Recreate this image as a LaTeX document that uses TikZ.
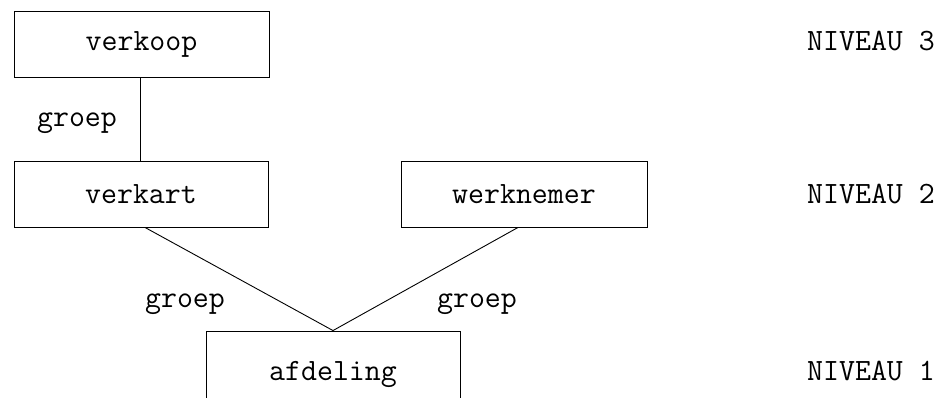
\documentclass[tikz,border=0pt]{standalone}
\usepackage{tikz}

\begin{document}
\begin{tikzpicture}[x=1pt,y=-1pt,line width=0.9pt,
  every node/.style={font=\fontsize{31}{36}\selectfont\ttfamily},
  tabel/.style={draw,rectangle,inner sep=0pt,minimum height=66pt},
  lbl/.style={inner sep=0pt}]
\useasboundingbox (0,0) rectangle (949,397);

% tables
\node[tabel,minimum width=255pt] (verkoop) at (141.5,44) {verkoop};
\node[tabel,minimum width=254pt] (verkart) at (141,194) {verkart};
\node[tabel,minimum width=246pt] (werknemer) at (524,194) {werknemer};
\node[tabel,minimum width=254pt,minimum height=86pt] (afdeling) at (333,374) {afdeling};

% levels, on the baseline of the tables
\coordinate (lvl) at (871,0);
\node[lbl,anchor=base] (niv3) at (verkoop.base -| lvl) {NIVEAU 3};
\node[lbl,anchor=base] (niv2) at (verkart.base -| lvl) {NIVEAU 2};
\node[lbl,anchor=base] (niv1) at (afdeling.base -| lvl) {NIVEAU 1};

% links
\draw ([xshift=-1.5pt]verkoop.south) -- ([xshift=-1pt]verkart.north);
\draw ([xshift=4pt]verkart.south) -- (afdeling.north);
\draw ([xshift=-6pt]werknemer.south) -- (afdeling.north);

\node[lbl] (g1) at (77,123) {groep};
\node[lbl] (g2) at (185,304) {groep};
\node[lbl] (g3) at (477,304) {groep};
\end{tikzpicture}
\end{document}
